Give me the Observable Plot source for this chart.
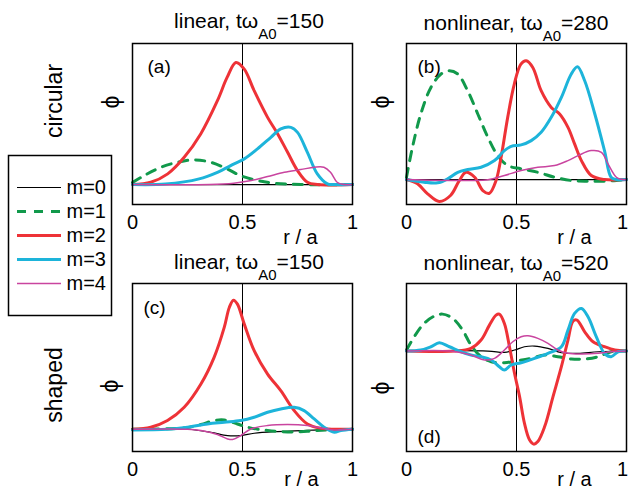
<!DOCTYPE html>
<html>
<head>
<meta charset="utf-8">
<script src="https://cdn.jsdelivr.net/npm/d3@7"></script>
<script src="https://cdn.jsdelivr.net/npm/@observablehq/plot@0.6"></script>
<style>
html, body { margin: 0; padding: 0; background: white; overflow: hidden; }
#fig { position: relative; width: 629px; height: 490px; font-family: "Liberation Sans", Arial, Helvetica, sans-serif; color: black; }
#fig svg { position: absolute; overflow: visible; }
.title { position: absolute; transform: translateX(-50%); font-size: 21px; line-height: 21px; white-space: nowrap; }
.title sub { font-size: 15px; vertical-align: baseline; position: relative; top: 11px; line-height: 0; }
.row { position: absolute; transform: translate(-50%, -50%) rotate(-90deg); font-size: 23px; white-space: nowrap; line-height: 23px; }
.phi { position: absolute; transform: translate(-50%, -50%) rotate(-90deg); font-size: 23px; white-space: nowrap; line-height: 23px; }
</style>
</head>
<body>
<div id="fig"></div>
<script>
// ---- series definitions ----
const series = ["m=0", "m=1", "m=2", "m=3", "m=4"];
const colors = ["#000000", "#11994b", "#ee3237", "#1db4da", "#c9449f"];
const widths = [1.2, 3, 3, 3, 1.5];
const dashes = [null, "9,8", null, null, null];

// ---- panel (a): circular, linear, t=150  [r/a, phi] ----
const a_m0 = [[0, 0], [0.5, 0], [1, 0]];
const a_m1 = [[0, 0.02], [0.053, 0.09], [0.129, 0.173], [0.205, 0.223], [0.28, 0.247], [0.356, 0.223], [0.43, 0.157], [0.49, 0.09], [0.568, 0.04], [0.644, 0.013], [0.765, 0], [1, 0]];
const a_m2 = [[0, 0], [0.083, 0.023], [0.16, 0.107], [0.235, 0.273], [0.31, 0.507], [0.386, 0.84], [0.43, 1.073], [0.47, 1.223], [0.508, 1.157], [0.553, 0.94], [0.614, 0.673], [0.66, 0.507], [0.705, 0.323], [0.75, 0.14], [0.795, 0.023], [0.84, 0], [1, 0]];
const a_m3 = [[0, 0], [0.15, 0.005], [0.303, 0.057], [0.386, 0.123], [0.462, 0.207], [0.508, 0.257], [0.568, 0.357], [0.629, 0.473], [0.674, 0.557], [0.72, 0.573], [0.75, 0.523], [0.795, 0.323], [0.84, 0.107], [0.886, 0.007], [0.92, 0], [1, 0]];
const a_m4 = [[0, 0], [0.35, 0], [0.46, 0.013], [0.54, 0.04], [0.614, 0.08], [0.69, 0.123], [0.765, 0.15], [0.826, 0.173], [0.87, 0.173], [0.9, 0.123], [0.93, 0.023], [0.96, 0], [1, 0]];

// ---- panel (b): circular, nonlinear, t=280 ----
const b_m0 = [[0, 0], [0.5, 0], [1, 0]];
const b_m1 = [[0, 0.023], [0.027, 0.323], [0.065, 0.657], [0.111, 0.923], [0.157, 1.057], [0.195, 1.09], [0.233, 1.057], [0.278, 0.89], [0.324, 0.657], [0.37, 0.423], [0.415, 0.24], [0.46, 0.14], [0.521, 0.107], [0.597, 0.073], [0.673, 0.023], [0.75, -0.01], [0.825, -0.017], [0.9, -0.017], [1, 0]];
const b_m2 = [[0, 0], [0.05, -0.043], [0.096, -0.143], [0.149, -0.22], [0.2, -0.16], [0.24, -0.01], [0.27, 0.073], [0.31, 0.023], [0.347, -0.11], [0.377, -0.137], [0.407, -0.01], [0.43, 0.223], [0.46, 0.623], [0.49, 0.957], [0.52, 1.157], [0.544, 1.19], [0.574, 1.123], [0.612, 0.89], [0.658, 0.723], [0.696, 0.657], [0.734, 0.523], [0.764, 0.357], [0.795, 0.19], [0.84, 0.04], [0.9, 0], [1, 0]];
const b_m3 = [[0, 0], [0.08, -0.027], [0.141, -0.033], [0.187, 0.007], [0.233, 0.073], [0.278, 0.1], [0.339, 0.123], [0.4, 0.19], [0.445, 0.29], [0.476, 0.333], [0.521, 0.347], [0.567, 0.39], [0.612, 0.473], [0.658, 0.623], [0.704, 0.823], [0.749, 1.057], [0.777, 1.13], [0.81, 0.99], [0.856, 0.657], [0.9, 0.29], [0.93, 0.023], [0.954, 0], [1, 0]];
const b_m4 = [[0, 0], [0.2, -0.01], [0.293, -0.01], [0.37, -0.003], [0.445, 0.04], [0.521, 0.09], [0.597, 0.123], [0.673, 0.14], [0.734, 0.19], [0.78, 0.24], [0.84, 0.29], [0.886, 0.273], [0.916, 0.157], [0.954, 0.023], [0.98, 0], [1, 0]];

// ---- panel (c): shaped, linear, t=150 ----
const c_m0 = [[0, 0], [0.25, 0], [0.356, -0.03], [0.432, -0.063], [0.492, -0.063], [0.553, -0.04], [0.659, -0.023], [0.765, -0.013], [0.886, -0.003], [1, 0]];
const c_m1 = [[0, 0], [0.235, 0.013], [0.311, 0.047], [0.371, 0.087], [0.417, 0.093], [0.477, 0.053], [0.523, 0.02], [0.614, -0.013], [0.705, -0.027], [0.795, -0.02], [0.886, -0.007], [1, 0]];
const c_m2 = [[0, 0], [0.083, 0.02], [0.159, 0.087], [0.235, 0.22], [0.311, 0.453], [0.371, 0.72], [0.417, 1.02], [0.44, 1.22], [0.459, 1.293], [0.477, 1.253], [0.508, 1.053], [0.553, 0.787], [0.614, 0.553], [0.674, 0.387], [0.735, 0.187], [0.795, 0.053], [0.856, 0.01], [0.917, 0], [1, 0]];
const c_m3 = [[0, -0.007], [0.159, 0], [0.25, 0.02], [0.341, 0.053], [0.417, 0.07], [0.492, 0.087], [0.553, 0.12], [0.614, 0.17], [0.674, 0.203], [0.735, 0.22], [0.78, 0.187], [0.826, 0.103], [0.871, 0.02], [0.917, -0.03], [0.947, -0.013], [1, 0]];
const c_m4 = [[0, 0], [0.25, 0], [0.311, -0.013], [0.386, -0.053], [0.432, -0.097], [0.455, -0.103], [0.492, -0.063], [0.538, 0.003], [0.614, 0.037], [0.705, 0.047], [0.795, 0.037], [0.856, 0.013], [0.917, -0.007], [1, 0]];

// ---- panel (d): shaped, nonlinear, t=520 ----
const d_m0 = [[0, 0], [0.37, 0], [0.445, -0.013], [0.491, 0.01], [0.536, 0.043], [0.582, 0.05], [0.643, 0.027], [0.704, -0.017], [0.78, -0.023], [0.871, -0.007], [1, 0]];
const d_m1 = [[0, 0.01], [0.035, 0.143], [0.08, 0.277], [0.126, 0.35], [0.164, 0.37], [0.21, 0.327], [0.255, 0.21], [0.293, 0.06], [0.339, -0.057], [0.385, -0.107], [0.445, -0.117], [0.506, -0.097], [0.567, -0.073], [0.628, -0.04], [0.688, -0.057], [0.749, -0.08], [0.81, -0.08], [0.871, -0.057], [0.93, -0.007], [1, 0]];
const d_m2 = [[0, 0], [0.217, 0], [0.293, 0.027], [0.339, 0.11], [0.377, 0.26], [0.407, 0.36], [0.422, 0.37], [0.445, 0.277], [0.468, 0.043], [0.491, -0.223], [0.514, -0.457], [0.536, -0.723], [0.559, -0.89], [0.578, -0.933], [0.597, -0.907], [0.628, -0.757], [0.666, -0.457], [0.704, -0.157], [0.734, 0.11], [0.757, 0.3], [0.775, 0.31], [0.81, 0.193], [0.848, 0.093], [0.9, 0.043], [0.947, 0.01], [1, 0]];
const d_m3 = [[0, 0], [0.065, 0.01], [0.111, 0.043], [0.149, 0.083], [0.195, 0.043], [0.248, -0.007], [0.293, -0.04], [0.339, -0.057], [0.385, -0.09], [0.422, -0.157], [0.445, -0.19], [0.476, -0.14], [0.521, -0.117], [0.582, -0.073], [0.643, -0.023], [0.704, 0.043], [0.734, 0.21], [0.764, 0.377], [0.795, 0.427], [0.825, 0.343], [0.863, 0.143], [0.9, -0.023], [0.93, -0.057], [0.962, -0.007], [1, 0]];
const d_m4 = [[0, 0], [0.2, 0], [0.293, -0.04], [0.354, -0.09], [0.4, -0.073], [0.445, 0.01], [0.483, 0.093], [0.521, 0.143], [0.552, 0.153], [0.597, 0.127], [0.643, 0.077], [0.688, 0.01], [0.734, -0.023], [0.795, -0.03], [0.871, -0.023], [0.93, -0.007], [1, 0]];

// ---- text ----
const xTicks = [0, 0.5, 1];
const panelLabels = ["(a)", "(b)", "(c)", "(d)"];
const titles = [
  ["linear, tω", "A0", "=150"],
  ["nonlinear, tω", "A0", "=280"],
  ["linear, tω", "A0", "=150"],
  ["nonlinear, tω", "A0", "=520"]
];
const rowLabels = ["circular", "shaped"];
const xLabel = "r / a";
const yLabel = "ϕ";

const fig = document.getElementById("fig");
const FONT = "'Liberation Sans', Arial, Helvetica, sans-serif";

function panel(cfg) {
  const ml = 40, mr = 10, mt = 10, mb = 50;
  const marks = [
    Plot.axisX(xTicks.slice(0, 2), {tickSize: 0, tickPadding: 10, fontSize: 20, tickFormat: d => String(d)}),
    Plot.axisX(xTicks.slice(2), {tickSize: 0, tickPadding: 10, fontSize: 20, tickFormat: d => String(d), dx: cfg.lastDx}),
    Plot.ruleX([0.5], {stroke: "black", strokeWidth: 1})
  ];
  cfg.data.forEach((arr, i) => {
    marks.push(Plot.line(arr, {
      x: d => d[0], y: d => d[1], stroke: colors[i], strokeWidth: widths[i],
      strokeDasharray: dashes[i] || undefined, curve: "catmull-rom"
    }));
  });
  marks.push(Plot.frame({stroke: "black", strokeWidth: 1.5}));
  marks.push(Plot.text([cfg.label], {frameAnchor: cfg.labelAnchor, textAnchor: "start", lineAnchor: "middle", dx: cfg.labelDx, dy: cfg.labelDy, fontSize: 19}));
  marks.push(Plot.text([xLabel], {frameAnchor: "bottom", lineAnchor: "middle", dx: cfg.raDx, dy: cfg.raDy, fontSize: 20}));
  const svg = Plot.plot({
    width: ml + cfg.w + mr, height: mt + cfg.h + mb,
    marginLeft: ml, marginRight: mr, marginTop: mt, marginBottom: mb,
    x: {domain: [0, 1], axis: null},
    y: {domain: cfg.yDomain, axis: null},
    style: {background: "transparent", fontFamily: FONT, overflow: "visible"},
    marks
  });
  svg.style.left = (cfg.left - ml) + "px";
  svg.style.top = (cfg.top - mt) + "px";
  fig.appendChild(svg);
  // rotated y label
  const phi = document.createElement("div");
  phi.className = "phi";
  phi.style.left = cfg.phi[0] + "px";
  phi.style.top = cfg.phi[1] + "px";
  phi.textContent = yLabel;
  fig.appendChild(phi);
}

panel({left: 132, top: 43, w: 220, h: 161, yDomain: [-0.2, 1.413], data: [a_m0, a_m1, a_m2, a_m3, a_m4],
  label: panelLabels[0], labelAnchor: "top-left", labelDx: 15, labelDy: 23, phi: [111, 102], raDx: 58, raDy: 33, lastDx: 0});
panel({left: 406, top: 43, w: 220, h: 161, yDomain: [-0.25, 1.363], data: [b_m0, b_m1, b_m2, b_m3, b_m4],
  label: panelLabels[1], labelAnchor: "top-left", labelDx: 11, labelDy: 23, phi: [381, 102], raDx: 58, raDy: 33, lastDx: -4});
panel({left: 132, top: 283, w: 220, h: 168, yDomain: [-0.223, 1.46], data: [c_m0, c_m1, c_m2, c_m3, c_m4],
  label: panelLabels[2], labelAnchor: "top-left", labelDx: 11, labelDy: 24, phi: [110, 386], raDx: 59, raDy: 28, lastDx: 0});
panel({left: 406, top: 283, w: 220, h: 168, yDomain: [-1.007, 0.677], data: [d_m0, d_m1, d_m2, d_m3, d_m4],
  label: panelLabels[3], labelAnchor: "bottom-left", labelDx: 11, labelDy: -15, phi: [381, 388], raDx: 58, raDy: 28, lastDx: -4});

// titles
const titlePos = [[249, 10], [516, 12], [249, 251], [516, 252]];
titles.forEach((t, i) => {
  const div = document.createElement("div");
  div.className = "title";
  div.style.left = titlePos[i][0] + "px";
  div.style.top = titlePos[i][1] + "px";
  div.append(t[0]);
  const sub = document.createElement("sub");
  sub.textContent = t[1];
  div.append(sub);
  div.append(t[2]);
  fig.appendChild(div);
});

// row labels
[[54, 101], [54, 385]].forEach((p, i) => {
  const div = document.createElement("div");
  div.className = "row";
  div.style.left = p[0] + "px";
  div.style.top = p[1] + "px";
  div.textContent = rowLabels[i];
  fig.appendChild(div);
});

// legend
const legendMarks = [Plot.frame({stroke: "black", strokeWidth: 1.5})];
series.forEach((s, i) => {
  legendMarks.push(Plot.ruleY([s], {x1: 0, x2: 1, stroke: colors[i], strokeWidth: widths[i], strokeDasharray: dashes[i] || undefined}));
});
legendMarks.push(Plot.text(series, {x: 1, y: d => d, dx: 5, textAnchor: "start", lineAnchor: "middle", fontSize: 20}));
const legend = Plot.plot({
  width: 105, height: 162, marginLeft: 1, marginRight: 1, marginTop: 1, marginBottom: 1,
  x: {domain: [0, 1], range: [10, 54], axis: null},
  y: {type: "point", domain: series, range: [19, 143], axis: null},
  style: {background: "white", fontFamily: FONT, overflow: "visible"},
  marks: legendMarks
});
legend.style.left = "7px";
legend.style.top = "154px";
fig.appendChild(legend);
</script>
</body>
</html>
